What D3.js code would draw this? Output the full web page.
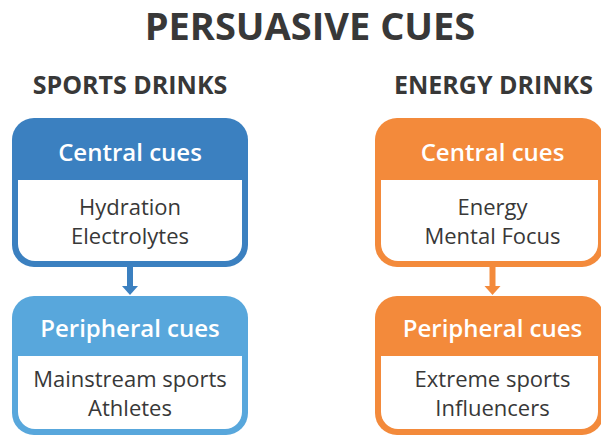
<!DOCTYPE html>
<html>
<head>
<meta charset="utf-8">
<script src="https://cdn.jsdelivr.net/npm/d3@7"></script>
<style>
  body { margin: 0; background: #fff; }
  text { font-family: "Open Sans", sans-serif; }
</style>
</head>
<body>
<svg width="601" height="437"></svg>
<script>
// chart content
const title = 'PERSUASIVE CUES';
const drinks = ['SPORTS DRINKS', 'ENERGY DRINKS'];
const levels = ['Central cues', 'Peripheral cues'];
const cueLines = [
    [['Hydration', 'Electrolytes'], ['Mainstream sports', 'Athletes']],
    [['Energy', 'Mental Focus'], ['Extreme sports', 'Influencers']]
];
const boxColors = [['#3b80c0', '#58a7dc'], ['#f38a3b', '#f38a3b']];

const svg = d3.select('svg');

const textColor = '#383838';
const border = 6;

// layout scales
const xLeft = d3.scaleOrdinal().domain(drinks).range([12, 375]);
const boxWidth = d3.scaleOrdinal().domain(drinks).range([236, 229]);
const yTop = d3.scaleOrdinal().domain(levels).range([118, 296]);
const boxHeight = d3.scaleOrdinal().domain(levels).range([149, 139]);
const headHeight = d3.scaleOrdinal().domain(levels).range([62, 60]);

//* title
svg.append('text')
    .attr('x', 310)
    .attr('y', 40)
    .attr('text-anchor', 'middle')
    .style('font-size', '38px')
    .style('font-weight', 700)
    .style('fill', textColor)
    .text(title);

const cols = svg.selectAll('g.col').data(drinks)
    .enter().append('g')
    .attr('class', 'col')
    .attr('transform', d => `translate(${xLeft(d)},0)`);

//* column headings
cols.append('text')
    .attr('x', (d, i) => boxWidth(d) / 2 + (i ? 4 : 0))
    .attr('y', 94)
    .attr('text-anchor', 'middle')
    .style('font-size', '25px')
    .style('font-weight', 700)
    .style('fill', textColor)
    .text(d => d);

//* boxes
cols.each(function(drink, ci) {
    const col = d3.select(this);
    const w = boxWidth(drink);
    const cx = w / 2 + (ci ? 3 : 0);

    // arrow between the two boxes
    const y0 = yTop(levels[0]) + boxHeight(levels[0]);
    const y1 = yTop(levels[1]);
    const arrowColor = boxColors[ci][0];
    col.append('line')
        .attr('x1', cx).attr('x2', cx)
        .attr('y1', y0 - 2).attr('y2', y1 - 8)
        .style('stroke', arrowColor)
        .style('stroke-width', 6);
    col.append('path')
        .attr('d', `M${cx - 8},${y1 - 10}L${cx + 8},${y1 - 10}L${cx},${y1 - 1}Z`)
        .style('fill', arrowColor);

    const boxes = col.selectAll('g.box').data(levels)
        .enter().append('g')
        .attr('class', 'box')
        .attr('transform', d => `translate(0,${yTop(d)})`);

    boxes.append('rect')
        .attr('width', w)
        .attr('height', d => boxHeight(d))
        .attr('rx', 22)
        .style('fill', (d, i) => boxColors[ci][i]);

    boxes.append('rect')
        .attr('x', border)
        .attr('y', d => headHeight(d))
        .attr('width', w - 2 * border)
        .attr('height', d => boxHeight(d) - headHeight(d) - border)
        .attr('rx', 17)
        .style('fill', '#fff');
    boxes.append('rect')
        .attr('x', border)
        .attr('y', d => headHeight(d))
        .attr('width', w - 2 * border)
        .attr('height', 20)
        .style('fill', '#fff');

    boxes.append('text')
        .attr('x', cx)
        .attr('y', d => headHeight(d) - 19)
        .attr('text-anchor', 'middle')
        .style('font-size', '24px')
        .style('font-weight', 600)
        .style('fill', '#fff')
        .text(d => d);

    boxes.each(function(level, li) {
        const bodyMid = (headHeight(level) + boxHeight(level) - border) / 2;
        d3.select(this).selectAll('text.cue').data(cueLines[ci][li])
            .enter().append('text')
            .attr('class', 'cue')
            .attr('x', cx)
            .attr('y', (d, k) => bodyMid + 9 + (k - 0.5) * 29)
            .attr('text-anchor', 'middle')
            .style('font-size', '22px')
            .style('fill', textColor)
            .text(d => d);
    });
});
</script>
</body>
</html>
